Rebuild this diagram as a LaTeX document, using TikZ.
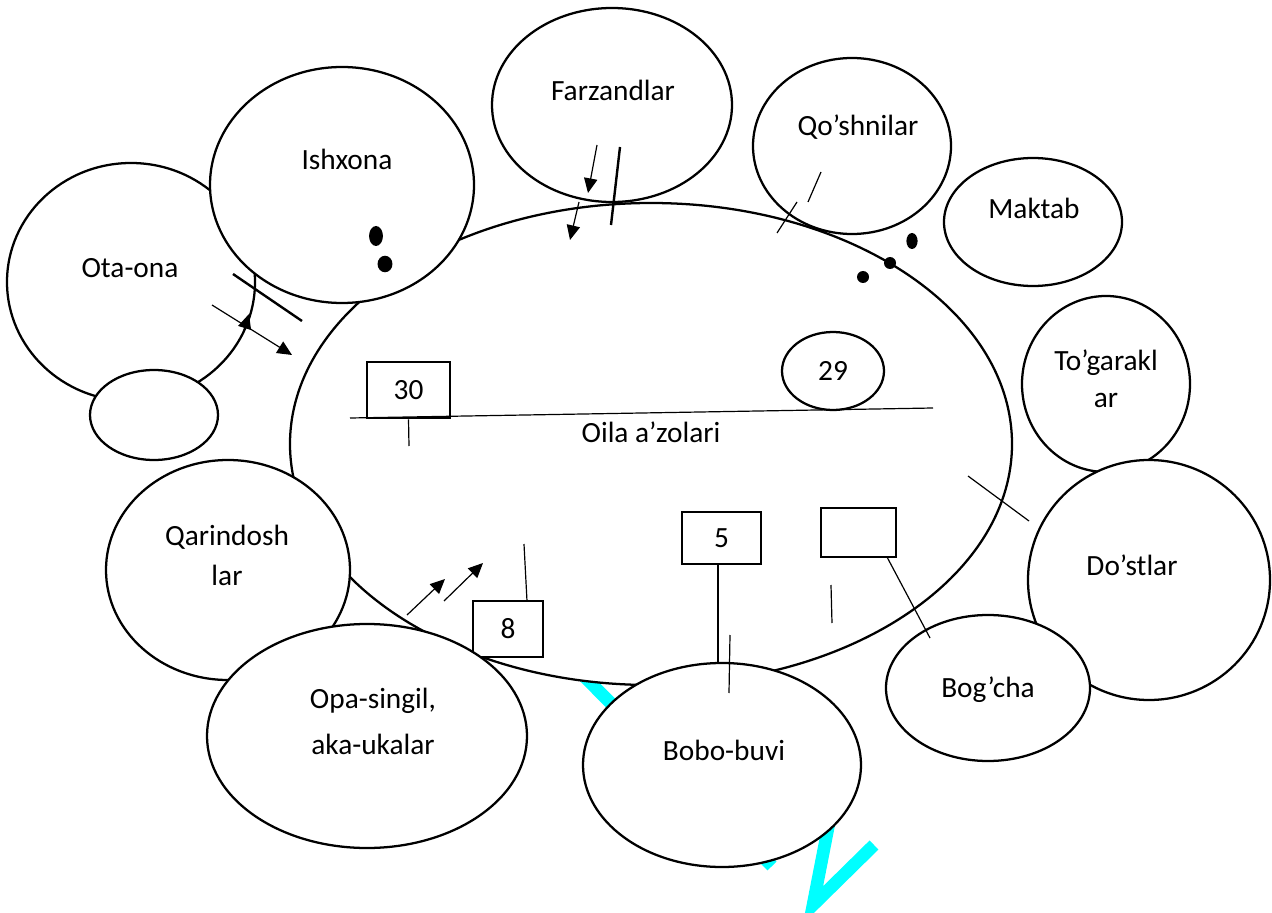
\documentclass[tikz,border=0pt]{standalone}
\usepackage{fontspec}
\setmainfont{Carlito}
\usetikzlibrary{shapes.geometric}
\usetikzlibrary{arrows.meta}
\definecolor{aqua}{RGB}{0,255,255}

\begin{document}
\begin{tikzpicture}[x=0.75pt,y=-0.75pt,
		bubble/.style={ellipse,draw=black,line width=1.7pt,fill=white,inner sep=0pt},
		dims/.style 2 args={minimum width=#1*0.75pt,minimum height=#2*0.75pt},
		tagbox/.style={rectangle,draw=black,line width=2pt,fill=white,inner sep=0pt,font=\fontsize{22}{26}\selectfont},
		caption/.style={anchor=base,inner sep=0pt,font=\fontsize{22}{26}\selectfont},
		stroke/.style={line width=0.9pt},
		bar/.style={line width=1.8pt},
		pointer/.style={line width=0.9pt,-{Triangle[length=11pt,width=10pt]}},
		wm/.style={draw=aqua,line width=9.5pt}]
			\useasboundingbox (0,0) rectangle (1272,913);
			% watermark behind everything
			\coordinate (w1) at (566,658);
			\coordinate (w2) at (772,866);
			\coordinate (w3) at (837,782);
			\coordinate (w4) at (813,905);
			\coordinate (w5) at (874,845);
			\draw[wm] (w1) -- (w2);
			\draw[wm,line join=miter] (w3) -- (w4) -- (w5);
			% centre
			\node[bubble,dims={722}{482}] (oila) at (651,444) {};
			\node[caption] (oila-t) at (651,442) {Oila a’zolari};
			\node[bubble,dims={102}{78},font=\fontsize{22}{26}\selectfont] (n29) at (833,371) {29};
			\node[tagbox,dims={83}{56}] (n30) at (408.5,390) {30};
			\node[tagbox,dims={79}{52}] (n5) at (721.5,538) {5};
			\node[tagbox,dims={70}{56}] (n8) at (508,629) {8};
			\node[tagbox,dims={75}{49}] (blank) at (858.5,532.5) {};
			% outer ring
			\node[bubble,dims={248}{238}] (ota) at (131,282) {};
			\node[bubble,dims={128}{90}] (bosh) at (154,415) {};
			\node[bubble,dims={264}{236}] (ishxona) at (342,185) {};
			\node[bubble,dims={240}{194}] (farzand) at (612,105) {};
			\node[bubble,dims={198}{176}] (qoshni) at (852,146) {};
			\node[bubble,dims={178}{128}] (maktab) at (1033,222) {};
			\node[bubble,dims={168}{176}] (togarak) at (1106,384) {};
			\node[bubble,dims={242}{240}] (dost) at (1149,580) {};
			\node[bubble,dims={204}{146}] (bogcha) at (988,688) {};
			\node[bubble,dims={244}{220}] (qarindosh) at (228,570) {};
			\node[bubble,dims={320}{224}] (opa) at (367,736) {};
			\node[bubble,dims={278}{204}] (bobo) at (722,765) {};
			\node[caption] (ota-t) at (130,277) {Ota-ona};
			\node[caption] (ishxona-t) at (347,170) {Ishxona};
			\node[caption] (farzand-t) at (613,101) {Farzandlar};
			\node[caption] (qoshni-t) at (858,136) {Qo’shnilar};
			\node[caption] (maktab-t) at (1034,219) {Maktab};
			\node[caption] (togarak-t) at (1106,370) {To’garakl};
			\node[caption] (togarak-u) at (1106,407) {ar};
			\node[caption] (dost-t) at (1132,575) {Do’stlar};
			\node[caption] (bogcha-t) at (988,697) {Bog’cha};
			\node[caption] (bobo-t) at (724,760) {Bobo-buvi};
			\node[caption] (opa-t) at (373,708) {Opa-singil,};
			\node[caption] (opa-u) at (373,754) {aka-ukalar};
			\node[caption] (qarindosh-t) at (227,545) {Qarindosh};
			\node[caption] (qarindosh-u) at (227,585) {lar};
			% dots
			\fill (376,236) ellipse [x radius=5.2pt,y radius=7.5pt];
			\fill (385,264) ellipse [x radius=5.6pt,y radius=6.2pt];
			\fill (912,241) ellipse [x radius=4.2pt,y radius=6pt];
			\fill (890,263) circle [radius=4.5pt];
			\fill (863,277) circle [radius=4.5pt];
			% marks and arrows
			\coordinate (a1) at (233,274);
			\coordinate (a2) at (302,321);
			\coordinate (a3) at (212,305);
			\coordinate (a4) at (292,355);
			\coordinate (a5) at (243,333);
			\coordinate (a6) at (249,314);
			\draw[bar] (a1) -- (a2);
			\draw[pointer] (a3) -- (a4);
			\draw[pointer] (a5) -- (a6);
			\coordinate (f1) at (597,145);
			\coordinate (f2) at (588,193);
			\coordinate (f3) at (579,202);
			\coordinate (f4) at (570,240);
			\coordinate (f5) at (620,147);
			\coordinate (f6) at (611,225);
			\draw[pointer] (f1) -- (f2);
			\draw[pointer] (f3) -- (f4);
			\draw[bar] (f5) -- (f6);
			\coordinate (q1) at (821,172);
			\coordinate (q2) at (808,202);
			\coordinate (q3) at (797,202);
			\coordinate (q4) at (777,233);
			\draw[stroke] (q1) -- (q2);
			\draw[stroke] (q3) -- (q4);
			\coordinate (d1) at (968,476);
			\coordinate (d2) at (1029,521);
			\draw[stroke] (d1) -- (d2);
			\coordinate (b1) at (887,557);
			\coordinate (b2) at (930,638);
			\coordinate (b3) at (831,585);
			\coordinate (b4) at (832,623);
			\draw[stroke] (b1) -- (b2);
			\draw[stroke] (b3) -- (b4);
			\coordinate (v1) at (718,564);
			\coordinate (v2) at (718,663);
			\coordinate (v3) at (730,635);
			\coordinate (v4) at (729,693);
			\draw[stroke] (v1) -- (v2);
			\draw[stroke] (v3) -- (v4);
			\coordinate (e1) at (524,544);
			\coordinate (e2) at (527,601);
			\draw[stroke] (e1) -- (e2);
			\coordinate (r1) at (407,615);
			\coordinate (r2) at (445,579);
			\coordinate (r3) at (444,601);
			\coordinate (r4) at (483,563);
			\draw[pointer] (r1) -- (r2);
			\draw[pointer] (r3) -- (r4);
			\coordinate (l1) at (350,418);
			\coordinate (l2) at (933,408);
			\coordinate (l3) at (409,446);
			\draw[stroke] (l1) -- (l2);
			\draw[stroke] (n30.south) -- (l3);
		\end{tikzpicture}
\end{document}
